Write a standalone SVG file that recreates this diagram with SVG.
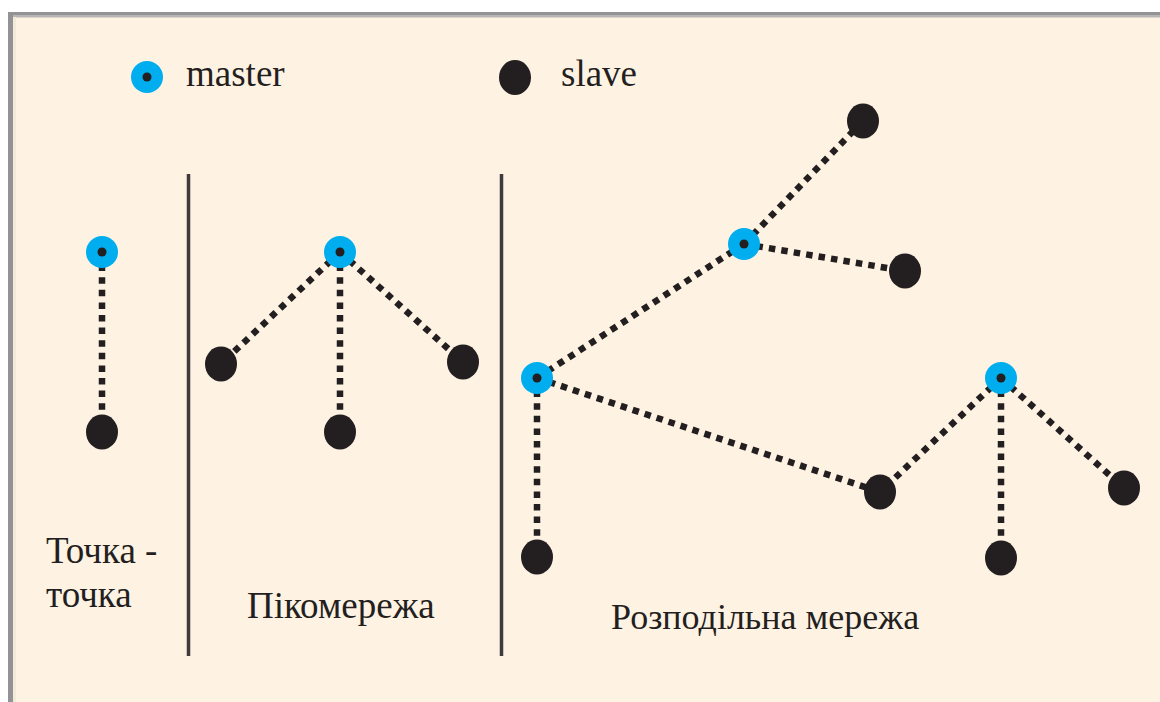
<svg xmlns="http://www.w3.org/2000/svg" width="1160" height="702" viewBox="0 0 1160 702">
  <style>
    .link { stroke: #231F20; stroke-width: 6.5; stroke-dasharray: 6.5 6.1; fill: none; }
    .slave { fill: #231F20; }
    .master-ring { fill: #00AEEF; }
    .master-core { fill: #231F20; }
    .divider { stroke: #3F3A3B; stroke-width: 3.5; }
  </style>

  <!-- page and frame -->
  <rect x="0" y="0" width="1160" height="702" fill="#FFFFFF"/>
  <rect x="8" y="12" width="1152" height="690" fill="#FEF2E3"/>
  <rect x="8" y="12" width="1152" height="3" fill="#939396"/>
  <rect x="8" y="15" width="1152" height="2.5" fill="#B6B6B6"/>
  <rect x="8" y="12" width="5" height="690" fill="#939396"/>
  <rect x="13" y="17" width="3" height="685" fill="#F3EAD8"/>

  <!-- section dividers -->
  <g id="dividers">
    <line class="divider" x1="188.5" y1="174" x2="188.5" y2="656"/>
    <line class="divider" x1="501.5" y1="174" x2="501.5" y2="656"/>
  </g>

  <!-- connectors -->
  <g id="connectors">
    <line class="link" x1="102" y1="252" x2="102" y2="432"/>

    <line class="link" x1="340" y1="252" x2="221" y2="364"/>
    <line class="link" x1="340" y1="252" x2="340" y2="432"/>
    <line class="link" x1="340" y1="252" x2="463" y2="362"/>

    <line class="link" x1="537" y1="378" x2="537" y2="557"/>
    <line class="link" x1="537" y1="378" x2="744" y2="244"/>
    <line class="link" x1="537" y1="378" x2="880" y2="492"/>
    <line class="link" x1="744" y1="244" x2="863" y2="121"/>
    <line class="link" x1="744" y1="244" x2="905" y2="271"/>
    <line class="link" x1="1001" y1="378" x2="880" y2="492"/>
    <line class="link" x1="1001" y1="378" x2="1001" y2="558"/>
    <line class="link" x1="1001" y1="378" x2="1124" y2="488"/>
  </g>

  <!-- legend -->
  <g id="legend-master">
    <circle class="master-ring" cx="147" cy="77" r="16"/>
    <circle class="master-core" cx="147" cy="77" r="4.5"/>
    <text font-family="Liberation Serif" font-size="37" fill="#231F20" x="186" y="86">master</text>
  </g>
  <g id="legend-slave">
    <ellipse class="slave" cx="515" cy="77.5" rx="16" ry="17.5"/>
    <text font-family="Liberation Serif" font-size="37" fill="#231F20" x="561" y="86">slave</text>
  </g>

  <!-- point-to-point -->
  <g id="p2p-master">
    <circle class="master-ring" cx="102" cy="252" r="16"/>
    <circle class="master-core" cx="102" cy="252" r="4.5"/>
  </g>
  <g id="p2p-slave"><ellipse class="slave" cx="102" cy="432" rx="16" ry="17.5"/></g>

  <!-- piconet -->
  <g id="pico-master">
    <circle class="master-ring" cx="340" cy="252" r="16"/>
    <circle class="master-core" cx="340" cy="252" r="4.5"/>
  </g>
  <g id="pico-slave-left"><ellipse class="slave" cx="221" cy="364" rx="16" ry="17.5"/></g>
  <g id="pico-slave-bottom"><ellipse class="slave" cx="340" cy="432" rx="16" ry="17.5"/></g>
  <g id="pico-slave-right"><ellipse class="slave" cx="463" cy="362" rx="16" ry="17.5"/></g>

  <!-- scatternet -->
  <g id="dist-master-a">
    <circle class="master-ring" cx="537" cy="378" r="16"/>
    <circle class="master-core" cx="537" cy="378" r="4.5"/>
  </g>
  <g id="dist-master-b">
    <circle class="master-ring" cx="744" cy="244" r="16"/>
    <circle class="master-core" cx="744" cy="244" r="4.5"/>
  </g>
  <g id="dist-master-c">
    <circle class="master-ring" cx="1001" cy="378" r="16"/>
    <circle class="master-core" cx="1001" cy="378" r="4.5"/>
  </g>
  <g id="dist-slave-a1"><ellipse class="slave" cx="537" cy="557" rx="16" ry="17.5"/></g>
  <g id="dist-slave-b1"><ellipse class="slave" cx="863" cy="121" rx="16" ry="17.5"/></g>
  <g id="dist-slave-b2"><ellipse class="slave" cx="905" cy="271" rx="16" ry="17.5"/></g>
  <g id="dist-slave-shared"><ellipse class="slave" cx="880" cy="492" rx="16" ry="17.5"/></g>
  <g id="dist-slave-c1"><ellipse class="slave" cx="1001" cy="558" rx="16" ry="17.5"/></g>
  <g id="dist-slave-c2"><ellipse class="slave" cx="1124" cy="488" rx="16" ry="17.5"/></g>

  <!-- section captions -->
  <g id="captions">
    <text font-family="Liberation Serif" font-size="37" fill="#231F20" x="46" y="563">Точка -</text>
    <text font-family="Liberation Serif" font-size="37" fill="#231F20" x="46" y="607">точка</text>
    <text font-family="Liberation Serif" font-size="37" fill="#231F20" x="247" y="618">Пікомережа</text>
    <text font-family="Liberation Serif" font-size="36" fill="#231F20" x="611" y="629">Розподільна мережа</text>
  </g>
</svg>
